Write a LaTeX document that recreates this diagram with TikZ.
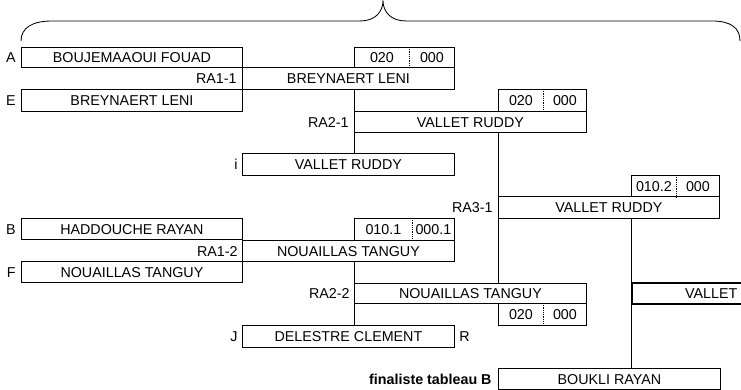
\documentclass[tikz,border=0pt]{standalone}
\usepackage{fontspec}
\setmainfont{Liberation Sans}
\newcommand\myfs{\fontsize{14.3}{16}\selectfont}
\begin{document}
\begin{tikzpicture}[x=1pt,y=-1pt,line width=0.85pt,
  box/.style={draw, rectangle, inner sep=0pt, anchor=north west, font=\myfs, text height=10.3pt, text depth=0pt},
  cell/.style={inner sep=0pt, anchor=north west, font=\myfs, text height=10.3pt, text depth=0pt},
  lab/.style={inner sep=0pt, font=\myfs, text height=10.3pt, text depth=0pt},
  sep/.style={densely dotted, line width=0.8pt},
  winbox/.style={box, line width=2.2pt}]
\useasboundingbox (0,0) rectangle (741,390);
\clip (0,0) rectangle (741,390);
% brace
\draw (21,41) .. controls (21,28) and (32,21) .. (52,21) -- (360,21)
  .. controls (375,21) and (383,12) .. (383,0.5)
  .. controls (383,12) and (391,21) .. (406,21) -- (712,21)
  .. controls (731,21) and (740,28) .. (740,41);
% first round
\node[box, minimum width=221pt, minimum height=20pt] (A) at (21,47) {BOUJEMAAOUI FOUAD};
\node[box, minimum width=212pt, minimum height=22pt] (ra11) at (242,67) {BREYNAERT LENI};
\node[box, minimum width=221pt, minimum height=22pt] (E) at (21,89) {BREYNAERT LENI};
\node[cell, minimum width=55pt, minimum height=20pt] (s1a) at (354,47) {020};
\node[cell, minimum width=45pt, minimum height=20pt] (s1b) at (409,47) {000};
\node[box, minimum width=221pt, minimum height=21pt] (B) at (21,218) {HADDOUCHE RAYAN};
\node[box, minimum width=212pt, minimum height=21pt] (ra12) at (242,240) {NOUAILLAS TANGUY};
\node[box, minimum width=221pt, minimum height=21pt] (F) at (21,261) {NOUAILLAS TANGUY};
\node[cell, minimum width=58pt, minimum height=22pt] (s4a) at (354,218) {010.1};
\node[cell, minimum width=42pt, minimum height=22pt] (s4b) at (412,218) {000.1};
% second round
\node[box, minimum width=232pt, minimum height=21pt] (ra21) at (354,111) {VALLET RUDDY};
\node[cell, minimum width=45pt, minimum height=22pt] (s2a) at (498,89) {020};
\node[cell, minimum width=43pt, minimum height=22pt] (s2b) at (543,89) {000};
\node[box, minimum width=212pt, minimum height=22pt] (i) at (242,153) {VALLET RUDDY};
\node[box, minimum width=232pt, minimum height=20pt] (ra22) at (354,283) {NOUAILLAS TANGUY};
\node[cell, minimum width=45pt, minimum height=22pt] (s5a) at (498,303) {020};
\node[cell, minimum width=43pt, minimum height=22pt] (s5b) at (543,303) {000};
\node[box, minimum width=212pt, minimum height=22pt] (J) at (242,325) {DELESTRE CLEMENT};
% third round
\node[cell, minimum width=45pt, minimum height=21pt] (s3a) at (631,175) {010.2};
\node[cell, minimum width=43pt, minimum height=21pt] (s3b) at (676,175) {000};
\node[box, minimum width=221pt, minimum height=22pt] (ra31) at (498,196) {VALLET RUDDY};
\node[winbox, minimum height=21pt] (vallet) at (631,282) {\hspace*{53pt}VALLET\hspace*{70pt}};
\node[box, minimum width=222pt, minimum height=21pt] (boukli) at (498,368) {BOUKLI RAYAN};
% score outlines
\foreach \a/\b in {s1a/s1b,s2a/s2b,s3a/s3b,s4a/s4b,s5a/s5b}{
  \draw (\a.south west) rectangle (\b.north east);
  \draw[sep] (\a.north east) -- (\a.south east);
}
% connectors
\draw (ra21.north west) -- (ra21.north west |- ra11.south);
\draw (ra21.south west) -- (ra21.south west |- i.north);
\draw (ra22.north west) -- (ra22.north west |- ra12.south);
\draw (ra22.south west) -- (ra22.south west |- J.north);
\draw (ra31.north west) -- (ra31.north west |- ra21.south);
\draw (ra31.south west) -- (ra31.south west |- ra22.north);
\draw (vallet.north west) -- (vallet.north west |- ra31.south);
\draw (vallet.south west) -- (vallet.south west |- boukli.north);
% labels
\node[lab, anchor=east] (lA) at ([xshift=-5pt]A.west) {A};
\node[lab, anchor=east] (lE) at ([xshift=-5pt]E.west) {E};
\node[lab, anchor=east] (lB) at ([xshift=-5pt]B.west) {B};
\node[lab, anchor=east] (lF) at ([xshift=-5pt]F.west) {F};
\node[lab, anchor=east] (li) at ([xshift=-4pt]i.west) {i};
\node[lab, anchor=east] (lJ) at ([xshift=-4pt]J.west) {J};
\node[lab, anchor=west] (lR) at ([xshift=4pt]J.east) {R};
\node[lab, anchor=east] (l11) at ([xshift=-5pt]ra11.west) {RA1-1};
\node[lab, anchor=east] (l21) at ([xshift=-5pt]ra21.west) {RA2-1};
\node[lab, anchor=east] (l31) at ([xshift=-5pt]ra31.west) {RA3-1};
\node[lab, anchor=east] (l12) at ([xshift=-4pt]ra12.west) {RA1-2};
\node[lab, anchor=east] (l22) at ([xshift=-4pt]ra22.west) {RA2-2};
\node[lab, anchor=east, font=\myfs\bfseries] (lfin) at ([xshift=-6pt]boukli.west) {finaliste tableau B};
\end{tikzpicture}
\end{document}
